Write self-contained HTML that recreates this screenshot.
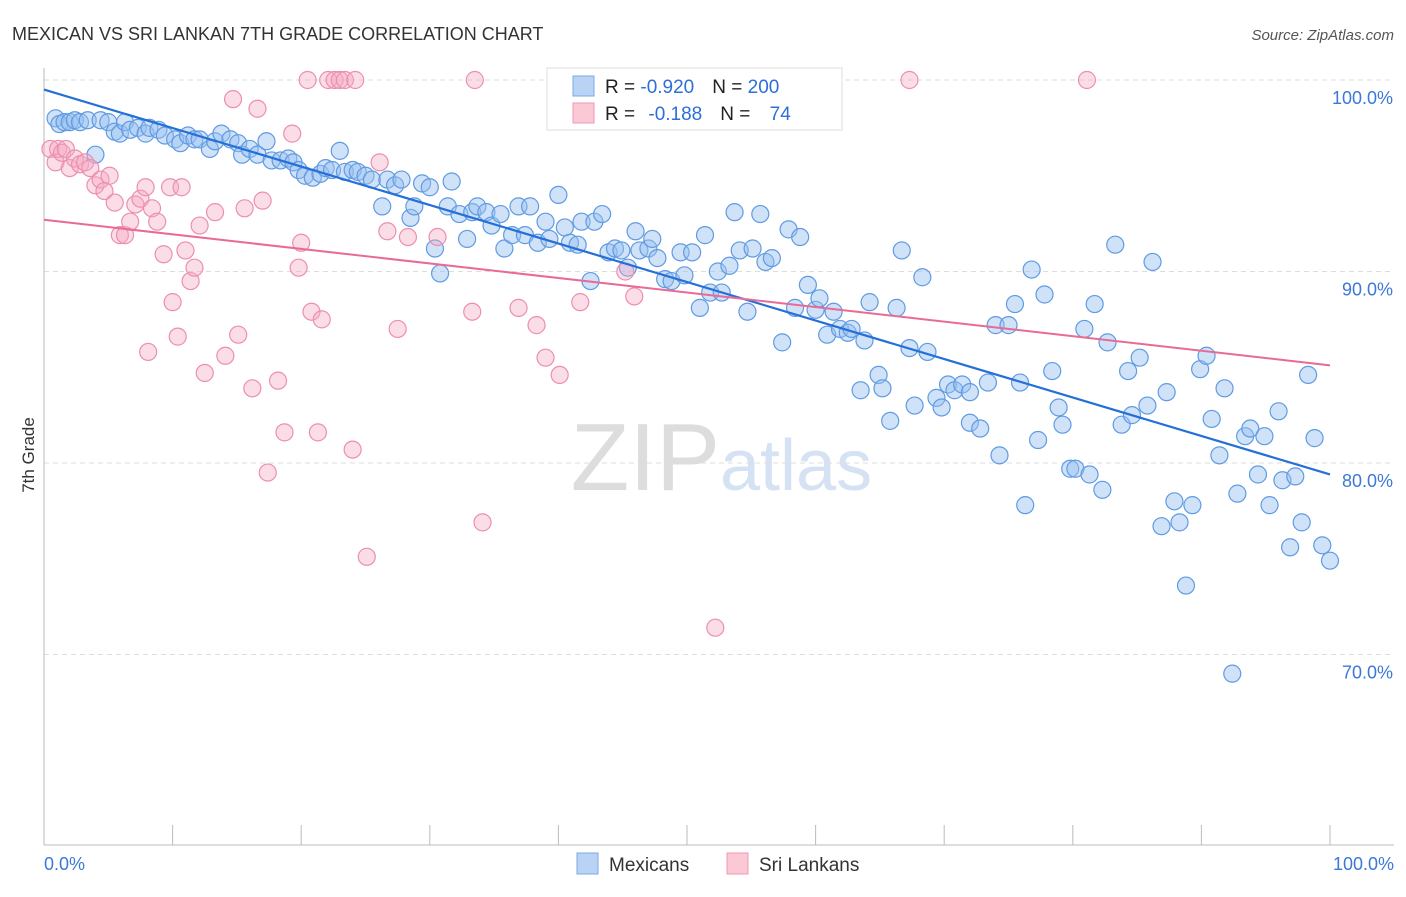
<!DOCTYPE html>
<html><head><meta charset="utf-8"><style>
body{margin:0;background:#fff;font-family:"Liberation Sans",sans-serif}
svg text{font-family:"Liberation Sans",sans-serif}
</style></head><body>
<svg id="chart" width="1406" height="892">
<text x="12" y="40" font-size="18" fill="#333">MEXICAN VS SRI LANKAN 7TH GRADE CORRELATION CHART</text>
<text x="1394" y="40" font-size="15" fill="#555" font-style="italic" text-anchor="end">Source: ZipAtlas.com</text>
<text x="34" y="455" font-size="17" fill="#333" transform="rotate(-90 34 455)" text-anchor="middle">7th Grade</text>
<text x="720" y="490" font-size="96" fill="#ddd" text-anchor="end" font-family="Liberation Serif">ZIP</text>
<text x="720" y="490" font-size="72" fill="#d4e2f4">atlas</text>
<g id="grid"></g><g id="axes"></g><g id="pts"></g><g id="lines"></g>
<g>
<rect x="547" y="68" width="295" height="62" fill="#fff" stroke="#ddd"/>
<rect x="573" y="76" width="21" height="20" fill="#b9d3f5" stroke="#7aa8e6"/>
<rect x="573" y="103" width="21" height="20" fill="#fbc8d6" stroke="#ee9ab5"/>
<text x="605" y="93" font-size="19" fill="#222">R = <tspan fill="#2d6fd6">-0.920</tspan><tspan dx="18">N = </tspan><tspan fill="#2d6fd6">200</tspan></text>
<text x="605" y="120" font-size="19" fill="#222">R = <tspan dx="8" fill="#2d6fd6">-0.188</tspan><tspan dx="18">N = </tspan><tspan dx="14" fill="#2d6fd6">74</tspan></text>
</g>
<g>
<rect x="577" y="853" width="21" height="21" fill="#b9d3f5" stroke="#7aa8e6"/>
<text x="609" y="871" font-size="19" fill="#333">Mexicans</text>
<rect x="727" y="853" width="21" height="21" fill="#fbc8d6" stroke="#ee9ab5"/>
<text x="759" y="871" font-size="19" fill="#333">Sri Lankans</text>
</g>
</svg>
<script>
const yTicks=[100,90,80,70];
const yTickLabels=["100.0%","90.0%","80.0%","70.0%"];
const xTickLabels=["0.0%","100.0%"];
const blueX=[0.9,1.2,1.6,2.0,2.4,2.8,3.4,4.0,4.4,5.0,5.5,5.9,6.3,6.7,7.3,7.9,8.2,8.9,9.4,10.2,10.6,11.2,11.7,12.1,12.9,13.3,13.8,14.5,15.1,15.4,16.0,16.6,17.3,17.7,18.4,19.0,19.4,19.8,20.3,20.9,21.5,21.9,22.4,23.0,23.4,24.0,24.4,25.0,25.5,26.3,26.7,27.3,27.8,28.5,28.8,29.4,30.0,30.4,30.8,31.4,31.7,32.3,32.9,33.3,33.7,34.4,34.8,35.5,35.8,36.4,36.9,37.4,37.8,38.4,39.0,39.3,40.0,40.5,40.9,41.5,41.8,42.5,42.8,43.4,43.9,44.4,44.9,45.4,46.0,46.3,47.0,47.3,47.7,48.3,48.8,49.5,49.8,50.4,51.0,51.4,51.8,52.4,52.7,53.3,53.7,54.1,54.7,55.1,55.7,56.1,56.6,57.4,57.9,58.4,58.8,59.4,60.0,60.3,60.9,61.4,61.9,62.5,62.8,63.5,63.8,64.2,64.9,65.2,65.8,66.3,66.7,67.3,67.7,68.3,68.7,69.4,69.8,70.3,70.8,71.4,72.0,72.0,72.8,73.4,74.0,74.3,75.0,75.5,75.9,76.3,76.8,77.3,77.8,78.4,78.9,79.2,79.8,80.2,80.9,81.3,81.7,82.3,82.7,83.3,83.8,84.3,84.6,85.2,85.8,86.2,86.9,87.3,87.9,88.3,88.8,89.3,89.9,90.4,90.8,91.4,91.8,92.4,92.8,93.4,93.8,94.4,94.9,95.3,96.0,96.3,96.9,97.3,97.8,98.3,98.8,99.4,100.0];
const blueY=[98.0,97.7,97.8,97.8,97.9,97.8,97.9,96.1,97.9,97.8,97.3,97.2,97.8,97.4,97.5,97.2,97.5,97.4,97.1,96.9,96.7,97.1,96.9,96.9,96.4,96.8,97.2,96.9,96.7,96.1,96.4,96.1,96.8,95.8,95.8,95.9,95.7,95.3,95.0,94.9,95.1,95.4,95.3,96.3,95.2,95.3,95.2,95.0,94.8,93.4,94.8,94.5,94.8,92.8,93.4,94.6,94.4,91.2,89.9,93.4,94.7,93.0,91.7,93.1,93.4,93.1,92.4,93.0,91.2,91.9,93.4,91.9,93.4,91.5,92.6,91.7,94.0,92.3,91.5,91.4,92.6,89.5,92.6,93.0,91.0,91.2,91.1,90.2,92.1,91.1,91.2,91.7,90.7,89.6,89.5,91.0,89.8,91.0,88.1,91.9,88.9,90.0,88.9,90.3,93.1,91.1,87.9,91.2,93.0,90.5,90.7,86.3,92.2,88.1,91.8,89.3,88.0,88.6,86.7,87.9,87.0,86.8,87.0,83.8,86.4,88.4,84.6,83.9,82.2,88.1,91.1,86.0,83.0,89.7,85.8,83.4,82.9,84.1,83.8,84.1,83.7,82.1,81.8,84.2,87.2,80.4,87.2,88.3,84.2,77.8,90.1,81.2,88.8,84.8,82.9,82.0,79.7,79.7,87.0,79.4,88.3,78.6,86.3,91.4,82.0,84.8,82.5,85.5,83.0,90.5,76.7,83.7,78.0,76.9,73.6,77.8,84.9,85.6,82.3,80.4,83.9,69.0,78.4,81.4,81.8,79.4,81.4,77.8,82.7,79.1,75.6,79.3,76.9,84.6,81.3,75.7,74.9];
const pinkX=[0.5,0.9,1.1,1.4,1.7,2.0,2.4,2.8,3.2,3.6,4.0,4.4,4.7,5.1,5.5,5.9,6.3,6.7,7.1,7.5,7.9,8.1,8.4,8.8,9.3,9.8,10.0,10.4,10.7,11.0,11.4,11.7,12.1,12.5,13.3,14.1,14.7,15.1,15.6,16.2,16.6,17.0,17.4,18.2,18.7,19.3,19.8,20.0,20.5,20.8,21.3,21.6,22.1,22.6,23.0,23.4,24.0,24.2,25.1,26.1,26.7,27.5,28.3,30.6,33.3,33.5,34.1,36.9,38.3,39.0,40.1,41.7,45.2,45.9,52.2,67.3,81.1];
const pinkY=[96.4,95.7,96.4,96.2,96.4,95.4,95.9,95.6,95.7,95.4,94.5,94.8,94.2,95.0,93.6,91.9,91.9,92.6,93.5,93.8,94.4,85.8,93.3,92.6,90.9,94.4,88.4,86.6,94.4,91.1,89.5,90.2,92.4,84.7,93.1,85.6,99.0,86.7,93.3,83.9,98.5,93.7,79.5,84.3,81.6,97.2,90.2,91.5,100,87.9,81.6,87.5,100,100,100,100,80.7,100,75.1,95.7,92.1,87.0,91.8,91.8,87.9,100,76.9,88.1,87.2,85.5,84.6,88.4,90.0,88.7,71.4,100,100];
const blueTrend=[99.5,79.4];
const pinkTrend=[92.7,85.1];
const NS="http://www.w3.org/2000/svg";
const X0=44,X1=1330,YTOP=80,PXPER=19.15;
function sx(v){return X0+(X1-X0)*v/100;}
function sy(v){return YTOP+(100-v)*PXPER;}
function mk(tag,attrs,parent){const e=document.createElementNS(NS,tag);for(const k in attrs)e.setAttribute(k,attrs[k]);parent.appendChild(e);return e;}
const grid=document.getElementById('grid'),axes=document.getElementById('axes'),pts=document.getElementById('pts'),lines=document.getElementById('lines');
yTicks.forEach((t,i)=>{
 const l=mk('line',{x1:X0,x2:1394,y1:sy(t),y2:sy(t),stroke:'#ddd','stroke-dasharray':'5,4'},grid);
 
 
 const tx=mk('text',{x:1393,y:sy(t)+24,'font-size':18,fill:'#3b78d8','text-anchor':'end'},axes);
 tx.textContent=yTickLabels[i];
 
 
});
const ax=mk('line',{x1:X0,x2:1394,y1:845,y2:845,stroke:'#bbb'},axes);


const ay=mk('line',{x1:X0,x2:X0,y1:68,y2:845,stroke:'#bbb'},axes);


for(let i=0;i<=10;i++){const t=mk('line',{x1:sx(i*10),x2:sx(i*10),y1:825,y2:845,stroke:'#bbb'},axes);
 
 }
[[0,'start',X0],[1,'end',1394]].forEach(([i,a,x])=>{const t=mk('text',{x:x,y:870,'font-size':18,fill:'#3b78d8','text-anchor':a},axes);t.textContent=xTickLabels[i];
 
 });
blueX.forEach((x,i)=>{const c=mk('circle',{cx:sx(x),cy:sy(blueY[i]),r:8.5,fill:'rgba(150,190,240,0.45)',stroke:'#5f9be3','stroke-width':1.2},pts);
 
 });
pinkX.forEach((x,i)=>{const c=mk('circle',{cx:sx(x),cy:sy(pinkY[i]),r:8.5,fill:'rgba(245,170,195,0.4)',stroke:'#ec8fae','stroke-width':1.2},pts);
 
 });
const bl=mk('line',{x1:sx(0),y1:sy(blueTrend[0]),x2:sx(100),y2:sy(blueTrend[1]),stroke:'#2470d8','stroke-width':2.2},lines);


const pl=mk('line',{x1:sx(0),y1:sy(pinkTrend[0]),x2:sx(100),y2:sy(pinkTrend[1]),stroke:'#e86a95','stroke-width':2},lines);


</script>
</body></html>
